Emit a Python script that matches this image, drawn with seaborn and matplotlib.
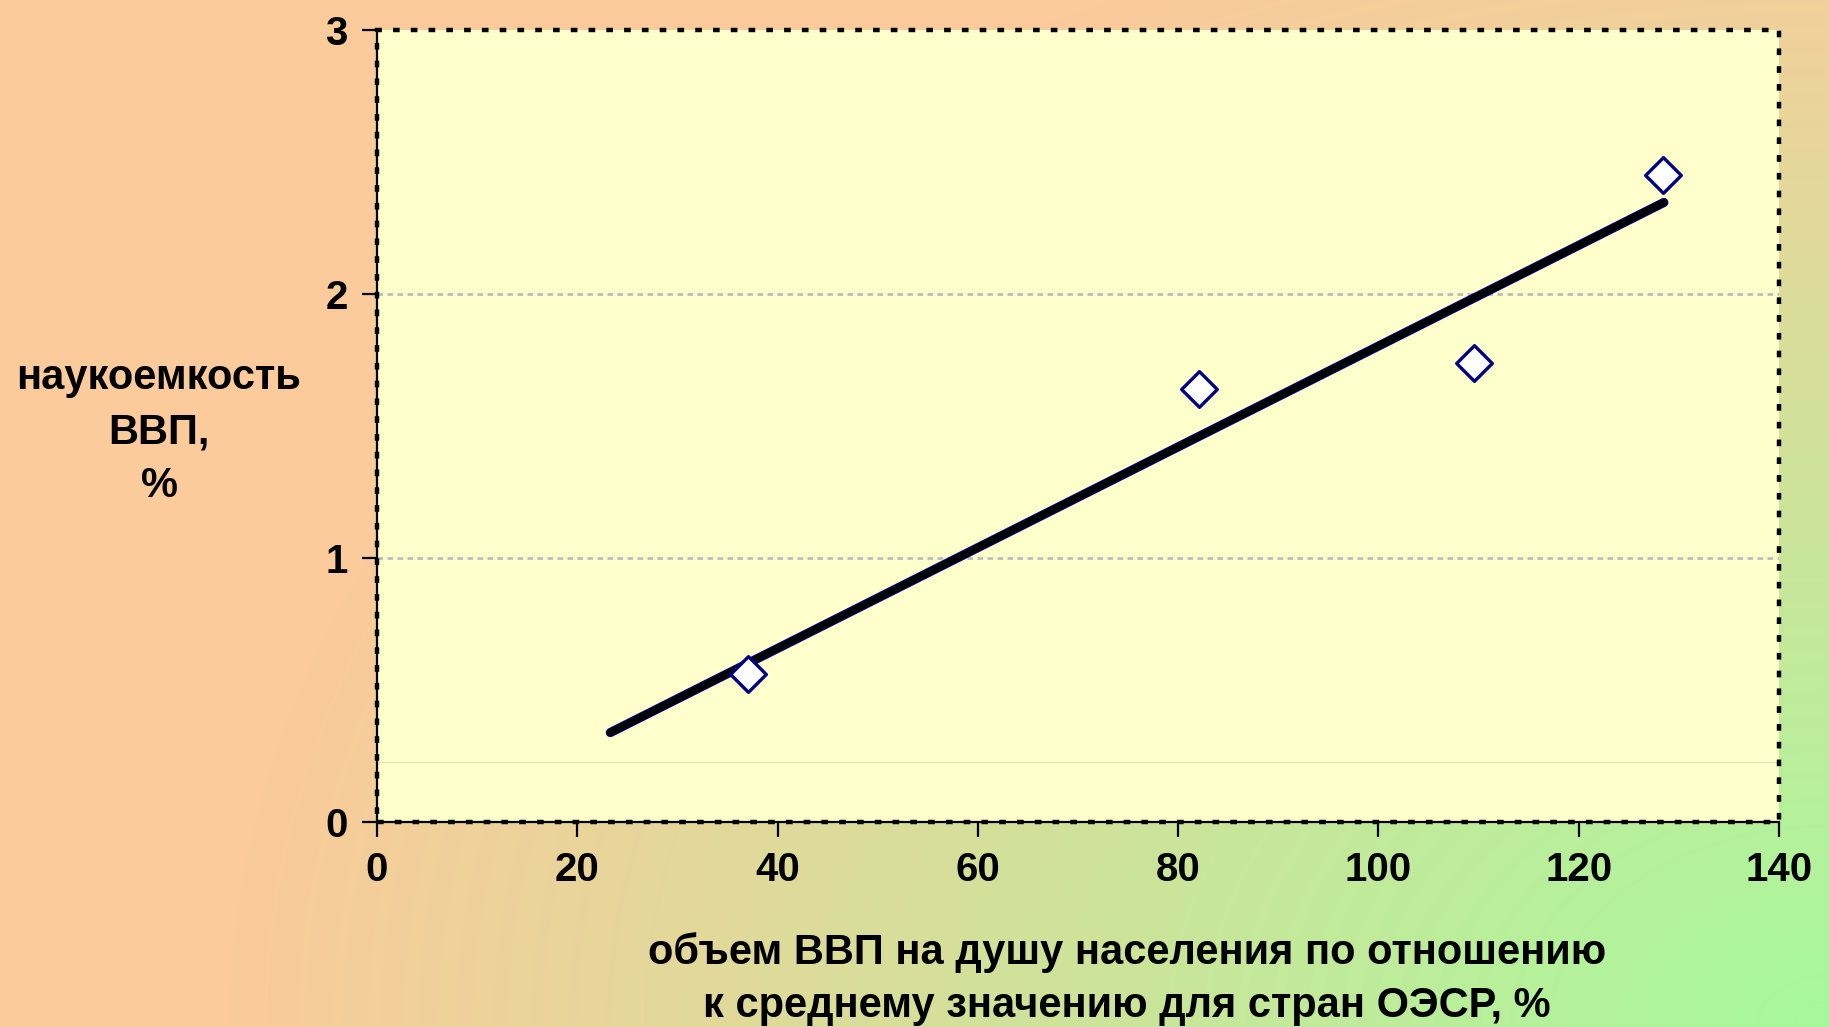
import numpy as np
import matplotlib
matplotlib.use("Agg")
import matplotlib.pyplot as plt
import matplotlib.patches as mpatches
import seaborn as sns
import pandas as pd

# data
gdp_per_capita = [37.0, 82.1, 109.5, 128.4]     # % of OECD average
rd_intensity = [0.56, 1.64, 1.74, 2.45]          # % of GDP
trend_x_range = [23.3, 128.5]
x_ticks = [0, 20, 40, 60, 80, 100, 120, 140]
y_ticks = [0, 1, 2, 3]
faint_line_y = 0.227

df = pd.DataFrame({"x": gdp_per_capita, "y": rd_intensity})
slope, intercept = np.polyfit(df["x"], df["y"], 1)
trend = pd.DataFrame({"x": trend_x_range})
trend["y"] = slope * trend["x"] + intercept

sns.set_theme(style="white", rc={"text.color": "black", "xtick.color": "black",
                                 "ytick.color": "black", "axes.labelcolor": "black"})
plt.rcParams["font.family"] = ["Liberation Sans", "DejaVu Sans"]
plt.rcParams["font.weight"] = "bold"

W, H = 1829, 1027
fig = plt.figure(figsize=(W / 100, H / 100), dpi=100)

# background gradient: peach top/left -> green bottom-right
bg = fig.add_axes([0, 0, 1, 1], zorder=-10)
yy, xx = np.mgrid[0:H, 0:W]
d = np.sqrt(((W - xx) / 1600.0) ** 2 + ((H - yy) / 1150.0) ** 2)
t = np.clip(d, 0, 1)[..., None]
peach = np.array([251, 203, 155]) / 255
green = np.array([166, 249, 154]) / 255
img = green * (1 - t) + peach * t
bg.imshow(img, aspect="auto", extent=[0, 1, 0, 1])
bg.axis("off")

ax = fig.add_axes([377 / W, 1 - 822 / H, (1779 - 377) / W, (822 - 30) / H])
ax.set_facecolor("#FFFFCC")

for yv in [1, 2]:
    ax.axhline(yv, color="#BDBDBD", lw=2.0, ls=(0, (2, 1.6)), zorder=1)
ax.axhline(faint_line_y, color="#EED9A8", lw=0.8, zorder=1)

sns.lineplot(data=trend, x="x", y="y", ax=ax, color="#000080", lw=6.6,
             solid_capstyle="round", zorder=3)
sns.lineplot(data=trend, x="x", y="y", ax=ax, color="black", lw=5.0,
             solid_capstyle="round", zorder=4)
sns.scatterplot(data=df, x="x", y="y", ax=ax, marker="D", s=330,
                facecolor="white", edgecolor="#000080", linewidth=2.4, zorder=5)

ax.set_xlim(0, 140)
ax.set_ylim(0, 3)
ax.set_xticks(x_ticks)
ax.set_yticks(y_ticks)
ax.tick_params(axis="both", direction="out", length=11, width=1.6, color="black",
               labelcolor="black", labelsize=29, pad=10, left=True, bottom=True)
for lab in ax.get_xticklabels() + ax.get_yticklabels():
    lab.set_fontweight("bold")

for side in ["top", "right"]:
    ax.spines[side].set_visible(False)
for side in ["left", "bottom"]:
    ax.spines[side].set_color("black")
    ax.spines[side].set_linewidth(1.6)

border = mpatches.Rectangle((0, 0), 1, 1, transform=ax.transAxes, fill=False,
                            edgecolor="black", lw=3.2, ls=(0, (1.5, 2.5)),
                            zorder=6, clip_on=False)
ax.add_patch(border)

ax.set_xlabel("")
ax.set_ylabel("")
fig.text(159 / W, 1 - 432 / H, "наукоемкость\nВВП,\n%", ha="center", va="center",
         fontsize=30, fontweight="bold", linespacing=1.45, color="black")
fig.text(1127 / W, 1 - 979 / H,
         "объем ВВП на душу населения по отношению\nк среднему значению для стран ОЭСР, %",
         ha="center", va="center", fontsize=30, fontweight="bold", linespacing=1.4,
         color="black")

fig.savefig("out.png", dpi=100)
